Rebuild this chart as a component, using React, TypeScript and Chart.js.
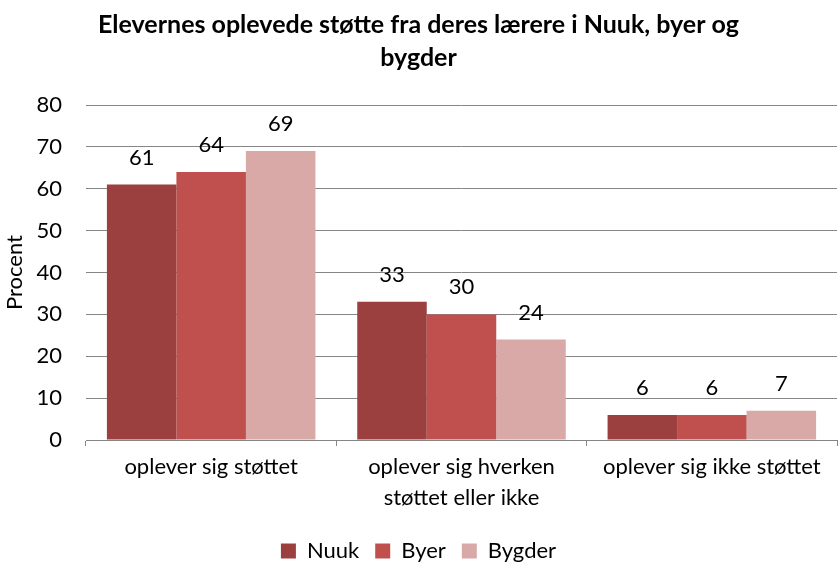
import React, { useEffect, useRef } from "react";
import { Chart, registerables } from "chart.js";

Chart.register(...registerables);

const categories: (string | string[])[] = [
  "oplever sig støttet",
  ["oplever sig hverken", "støttet eller ikke"],
  "oplever sig ikke støttet",
];
const nuuk = [61, 33, 6];
const byer = [64, 30, 6];
const bygder = [69, 24, 7];
const seriesNames = ["Nuuk", "Byer", "Bygder"];
const seriesColors = ["#9C403F", "#C0504D", "#D9A9A8"];
const titleLines = [
  "Elevernes oplevede støtte fra deres lærere i Nuuk, byer og",
  "bygder",
];
const yTitle = "Procent";

const FONT = "Lato, 'Open Sans', sans-serif";
const FS = 22;

const valueLabels = {
  id: "valueLabels",
  afterDatasetsDraw(chart: any) {
    const ctx = chart.ctx;
    ctx.save();
    ctx.font = `${FS}px ${FONT}`;
    ctx.fillStyle = "#000";
    ctx.textAlign = "center";
    ctx.textBaseline = "middle";
    chart.data.datasets.forEach((ds: any, i: number) => {
      const meta = chart.getDatasetMeta(i);
      meta.data.forEach((bar: any, j: number) => {
        ctx.fillText(String(ds.data[j]), bar.x, bar.y - 27);
      });
    });
    ctx.restore();
  },
};

export default function App() {
  const ref = useRef<HTMLCanvasElement>(null);
  useEffect(() => {
    if (!ref.current) return;
    const data = [nuuk, byer, bygder];
    const chart = new Chart(ref.current, {
      type: "bar",
      data: {
        labels: categories,
        datasets: seriesNames.map((n, i) => ({
          label: n,
          data: data[i],
          backgroundColor: seriesColors[i],
          borderWidth: 0,
          categoryPercentage: 0.833,
          barPercentage: 1,
        })),
      },
      options: {
        animation: false,
        responsive: false,
        layout: { padding: { left: 0, right: 1, top: 0, bottom: -9 } },
        plugins: {
          title: {
            display: true,
            text: titleLines,
            color: "#000",
            font: { family: FONT, size: 25, weight: "bold", lineHeight: 1.32 },
            padding: { top: 8, bottom: 31 },
          },
          legend: {
            position: "bottom",
            labels: {
              color: "#000",
              font: { family: FONT, size: FS },
              boxWidth: 15,
              boxHeight: 15,
              padding: 16,
            },
          },
          tooltip: { enabled: false },
        },
        scales: {
          x: {
            afterFit: (s: any) => {
              s.height = 84;
            },
            grid: {
              display: true,
              drawOnChartArea: false,
              drawTicks: true,
              tickLength: 6,
              color: "#868686",
              offset: true,
            },
            border: { display: true, color: "#868686", width: 1 },
            ticks: {
              color: "#000",
              font: { family: FONT, size: FS, lineHeight: 1.4 },
              padding: 6,
              maxRotation: 0,
            },
          },
          y: {
            afterFit: (s: any) => {
              s.width = 86;
            },
            min: 0,
            max: 80,
            ticks: {
              stepSize: 10,
              color: "#000",
              font: { family: FONT, size: FS },
              padding: 24,
            },
            grid: { color: "#868686", drawTicks: false },
            border: { display: false },
            title: {
              display: true,
              text: yTitle,
              color: "#000",
              font: { family: FONT, size: FS },
              padding: { top: 2, bottom: 0 },
            },
          },
        },
      },
      plugins: [valueLabels],
    });
    return () => chart.destroy();
  }, []);
  return (
    <div style={{ position: "fixed", left: 0, top: 0, width: 838, height: 563, background: "#fff" }}>
      <canvas ref={ref} width={838} height={563} />
    </div>
  );
}
